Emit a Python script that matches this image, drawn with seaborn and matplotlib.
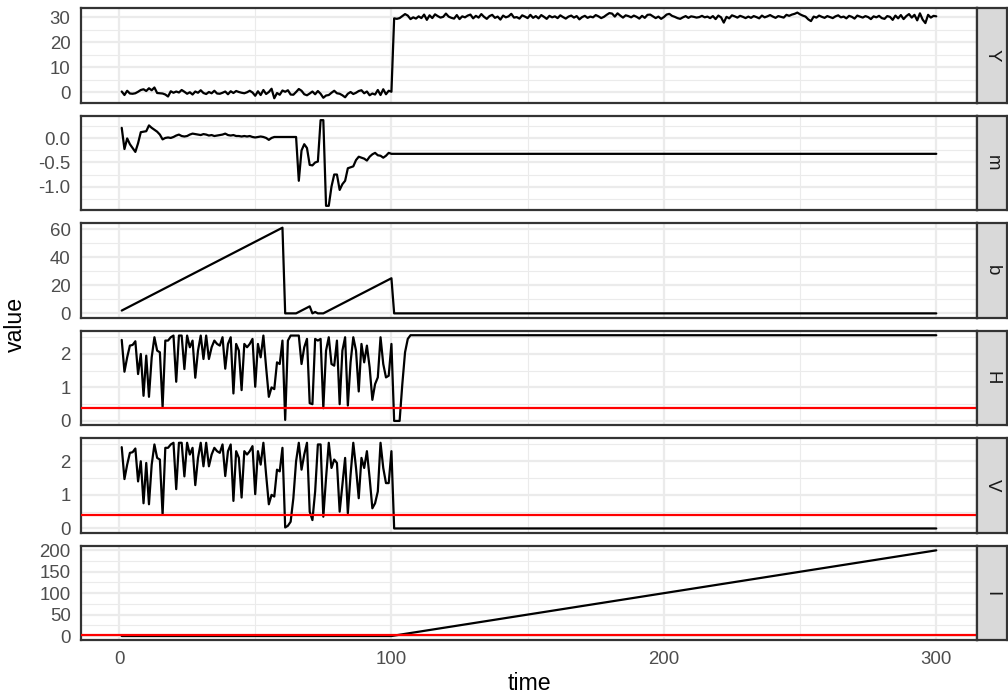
import numpy as np
import pandas as pd
import matplotlib
matplotlib.use("Agg")
import matplotlib.pyplot as plt
import seaborn as sns
from matplotlib.ticker import MultipleLocator, FixedLocator, FuncFormatter

# ---------------- data ----------------
facets = ["Y", "m", "b", "H", "V", "I"]

# Y : observed series (t = 1..300)
y_pre = [0.3, -1.1, 0.6, -0.5, -0.6, -0.4, 0.2, 0.9, 1.2, 0.5,
         1.6, 0.8, 1.9, -0.3, -0.4, -0.5, -0.9, -1.7, 0.4, -0.2,
         0.3, -0.1, 0.9, 0.2, -0.6, 0.0, -0.9, 0.3, -0.2, 0.8,
         -0.3, -0.7, 0.1, -0.4, 0.6, -0.5, -0.6, -0.2, 0.3, -0.8,
         0.4, -0.3, 0.5, 0.1, -0.2, -0.4, 0.0, 0.6, -0.1, -1.4,
         0.4, -1.1, 0.9, -0.7, 0.1, 1.4, -2.4, -0.3, -1.0, 0.7,
         0.2, 0.8, -0.9, -1.0, 0.1, 1.3, 0.6, -0.8, -1.2, -0.5,
         0.3, -0.8, 0.5, -0.6, -2.2, -1.3, -1.1, -0.2, 0.6, -0.4,
         -0.6, -1.2, -2.0, -0.6, 0.1, -0.7, -0.2, 0.5, 0.8, -0.4,
         0.3, -1.2, -0.5, -0.9, 0.9, -1.1, 1.2, -0.8, 0.6, 0.2]
y_post = [29.5, 29.3, 29.6, 30.4, 31.2, 30.6, 29.2, 29.9, 29.4, 30.3,
          29.6, 31.0, 28.9, 30.7, 29.6, 31.1, 30.4, 29.8, 30.1, 31.4,
          30.2, 29.7, 29.4, 30.8, 29.2, 30.3, 29.9, 30.6, 31.0, 29.5,
          30.5, 29.8, 31.2, 30.1, 29.3, 30.4, 30.9, 29.7, 30.2, 29.0,
          30.6, 29.9, 30.3, 31.3, 29.8, 30.0, 29.4, 30.7, 30.2, 29.6,
          30.9, 29.7, 30.4, 29.5, 30.8, 30.1, 29.3, 30.5, 29.9, 30.3,
          29.6, 30.7, 30.0, 29.4, 30.2, 30.6, 29.8, 30.4, 29.1, 30.0,
          30.5, 29.7, 30.2, 29.9, 30.8, 30.3, 29.6, 30.1, 30.9, 31.6,
          31.4, 30.2, 31.5, 30.6, 29.8, 30.7, 30.4, 29.9, 30.6, 30.1,
          29.4, 30.5, 29.7, 30.9, 31.0, 30.3, 29.6, 30.2, 29.3, 30.0,
          31.0, 31.3, 30.5, 30.1, 29.6, 29.3, 29.9, 30.4, 29.7, 30.3,
          30.1, 29.8, 30.0, 30.5, 29.9, 30.2, 29.6, 30.4, 29.2, 30.6,
          29.9, 27.8, 30.1, 29.5, 30.7, 30.3, 29.8, 30.5, 30.1, 29.6,
          30.2, 29.7, 30.4, 30.0, 29.5, 30.6, 29.9, 30.3, 30.8, 30.2,
          29.7, 30.4, 30.1, 29.8, 30.9, 30.5, 31.0, 31.3, 31.8, 31.1,
          30.6, 30.2, 29.1, 28.4, 30.2, 29.8, 30.6, 30.1, 29.7, 30.4,
          30.0, 29.6, 30.3, 30.7, 29.9, 30.2, 29.5, 30.5, 30.1, 29.4,
          30.6, 30.2, 29.8, 30.4, 30.0, 29.2, 30.3, 29.9, 30.5, 29.6,
          29.3, 30.4, 30.1, 28.9, 30.6, 29.5, 30.8, 29.2, 30.4, 31.2,
          29.8, 30.9, 28.7, 31.5, 29.0, 27.6, 30.9, 29.8, 30.5, 30.3]
Y_time = list(range(1, len(y_pre) + len(y_post) + 1))
Y_value = y_pre + y_post

# m : t = 1..100, then flat to 300
m_early = [0.22, -0.22, 0.0, -0.12, -0.2, -0.28, -0.1, 0.13, 0.14, 0.15,
           0.27, 0.22, 0.18, 0.14, 0.08, -0.02, 0.01, 0.02, 0.01, 0.03,
           0.06, 0.08, 0.05, 0.04, 0.05, 0.08, 0.1, 0.09, 0.08, 0.07,
           0.09, 0.08, 0.06, 0.07, 0.05, 0.06, 0.07, 0.08, 0.1, 0.07,
           0.06, 0.07, 0.05, 0.05, 0.04, 0.05, 0.04, 0.05, 0.03, 0.02,
           0.03, 0.04, 0.03, 0.01, -0.03, 0.01, 0.03, 0.03, 0.03, 0.03,
           0.03, 0.03, 0.03, 0.03, 0.03, -0.88, -0.25, -0.12, -0.2, -0.55,
           -0.56, -0.5, -0.48, 0.38, 0.38, -1.4, -1.4, -1.0, -0.75, -0.75,
           -1.07, -0.95, -0.88, -0.62, -0.6, -0.58, -0.45, -0.38, -0.4, -0.42,
           -0.46, -0.38, -0.33, -0.3, -0.35, -0.36, -0.4, -0.36, -0.3, -0.32]
m_time = list(range(1, len(m_early) + 1)) + [300]
m_value = m_early + [-0.32]

# b : run-length counter (segment end points)
b_time = [1, 60, 61, 65, 70, 71, 72, 73, 75, 100, 101, 300]
b_value = [2, 61, 0, 0, 5, 0, 1, 0, 0, 25, 0, 0]

# H and V share t = 1..60
hv_common = [2.42, 1.47, 1.9, 2.25, 2.27, 2.38, 1.4, 2.0, 0.75, 1.95,
             0.72, 1.9, 2.5, 2.1, 2.05, 0.41, 2.4, 2.4, 2.5, 2.55,
             1.17, 2.55, 2.55, 1.55, 2.55, 2.2, 2.4, 1.29, 2.1, 2.55,
             1.85, 2.55, 1.85, 2.2, 2.4, 2.3, 2.25, 2.5, 1.56, 2.3,
             2.5, 0.82, 2.3, 2.1, 0.92, 2.3, 2.2, 2.3, 2.45, 1.02,
             2.3, 1.9, 2.55, 1.6, 0.72, 1.0, 0.95, 1.75, 1.7, 2.4]
h_tail = [0.03, 2.4, 2.55, 2.55, 2.55, 2.55, 1.7, 2.2, 2.45, 0.53,
          0.5, 2.45, 2.4, 2.45, 0.38, 2.1, 2.5, 1.7, 1.65, 2.4,
          0.5, 2.1, 2.5, 0.46, 1.75, 2.5, 2.1, 0.88, 2.3, 1.75,
          2.25, 1.6, 0.63, 1.1, 1.3, 2.5, 1.7, 1.3, 1.35, 2.3,
          0.0, 0.0, 0.0, 1.1, 2.05, 2.45, 2.56]
v_tail = [0.03, 0.08, 0.2, 0.9, 2.0, 2.55, 1.75, 2.2, 2.55, 0.5,
          0.25, 1.1, 2.5, 2.5, 0.35, 1.5, 2.55, 1.8, 2.05, 1.95,
          0.5, 1.3, 2.1, 0.45, 1.6, 2.55, 1.8, 0.9, 2.1, 1.8,
          2.3, 1.5, 0.6, 0.75, 1.1, 2.55, 1.8, 1.35, 1.35, 2.3,
          0.0]
H_value = hv_common + h_tail + [2.56]
H_time = list(range(1, len(hv_common) + len(h_tail) + 1)) + [300]
V_value = hv_common + v_tail + [0.0]
V_time = list(range(1, len(hv_common) + len(v_tail) + 1)) + [300]

# I : segment end points
I_time = [1, 100, 300]
I_value = [0, 0, 200]

# red threshold lines
thresholds = {"H": 0.4, "V": 0.4, "I": 3}

series = {"Y": (Y_time, Y_value), "m": (m_time, m_value), "b": (b_time, b_value),
          "H": (H_time, H_value), "V": (V_time, V_value), "I": (I_time, I_value)}
frames = [pd.DataFrame({"time": t, "value": v, "variable": k}) for k, (t, v) in series.items()]
df = pd.concat(frames, ignore_index=True)

# y ticks
yticks = {"Y": [0, 10, 20, 30], "m": [-1.0, -0.5, 0.0], "b": [0, 20, 40, 60],
          "H": [0, 1, 2], "V": [0, 1, 2], "I": [0, 50, 100, 150, 200]}
ystep = {"Y": 10, "m": 0.5, "b": 20, "H": 1, "V": 1, "I": 50}

# ---------------- style ----------------
sns.set_style("white")
plt.rcParams["font.family"] = ["Liberation Sans", "DejaVu Sans"]

W, H = 1008, 698
fig, axes = plt.subplots(6, 1, figsize=(W / 100, H / 100), dpi=100, sharex=True)
fig.subplots_adjust(left=81 / W, right=977 / W, top=1 - 8.3 / H, bottom=1 - 640.3 / H, hspace=0.141)

grid_col = "#EBEBEB"
border_col = "#333333"
lw_line = 1.6

for ax, name in zip(axes, facets):
    sub = df[df["variable"] == name]
    sns.lineplot(data=sub, x="time", y="value", ax=ax, color="black", lw=lw_line,
                 estimator=None, sort=False, legend=False, zorder=3)
    if name in thresholds:
        ax.axhline(thresholds[name], color="#FF0000", lw=lw_line, zorder=4)
    vals = np.array(sub["value"].tolist() + ([thresholds[name]] if name in thresholds else []))
    lo, hi = vals.min(), vals.max()
    pad = 0.05 * (hi - lo)
    ax.set_ylim(lo - pad, hi + pad)
    ax.set_xlim(1 - 0.05 * 299, 300 + 0.05 * 299)
    ax.yaxis.set_major_locator(FixedLocator(yticks[name]))
    ax.yaxis.set_minor_locator(MultipleLocator(ystep[name] / 2))
    ax.xaxis.set_major_locator(FixedLocator([0, 100, 200, 300]))
    ax.xaxis.set_minor_locator(MultipleLocator(50))
    if name == "m":
        ax.yaxis.set_major_formatter(FuncFormatter(lambda v, p: f"{v:.1f}".replace("\u2212", "-")))
    else:
        ax.yaxis.set_major_formatter(FuncFormatter(lambda v, p: f"{v:g}"))
    ax.grid(True, which="major", color=grid_col, lw=1.6, zorder=0)
    ax.grid(True, which="minor", color=grid_col, lw=0.8, zorder=0)
    ax.set_axisbelow(True)
    for s in ax.spines.values():
        s.set_visible(True)
        s.set_color(border_col)
        s.set_linewidth(1.6)
    ax.tick_params(axis="both", which="major", direction="out", length=4.2, width=1.1,
                   color=border_col, labelcolor="#4D4D4D", labelsize=13.4, pad=3.3)
    ax.tick_params(axis="both", which="minor", length=0)
    ax.set_xlabel("")
    ax.set_ylabel("")

    # strip on the right
    pos = ax.get_position()
    sax = fig.add_axes([pos.x1, pos.y0, (1007 - 977) / W, pos.height])
    sax.set_facecolor("#D9D9D9")
    sax.set_xticks([])
    sax.set_yticks([])
    for s in sax.spines.values():
        s.set_color(border_col)
        s.set_linewidth(1.6)
    sax.text(0.5, 0.5, name, rotation=-90, ha="center", va="center",
             fontsize=13.4, color="#1A1A1A", transform=sax.transAxes)

for ax in axes[:-1]:
    ax.tick_params(axis="x", which="both", bottom=False, labelbottom=False)

fig.text(15 / W, 1 - 324 / H, "value", rotation=90, ha="center", va="center",
         fontsize=16.7, color="black")
fig.text(529 / W, 1 - 683 / H, "time", ha="center", va="center",
         fontsize=16.7, color="black")

fig.savefig("out.png", dpi=100, facecolor="white")
